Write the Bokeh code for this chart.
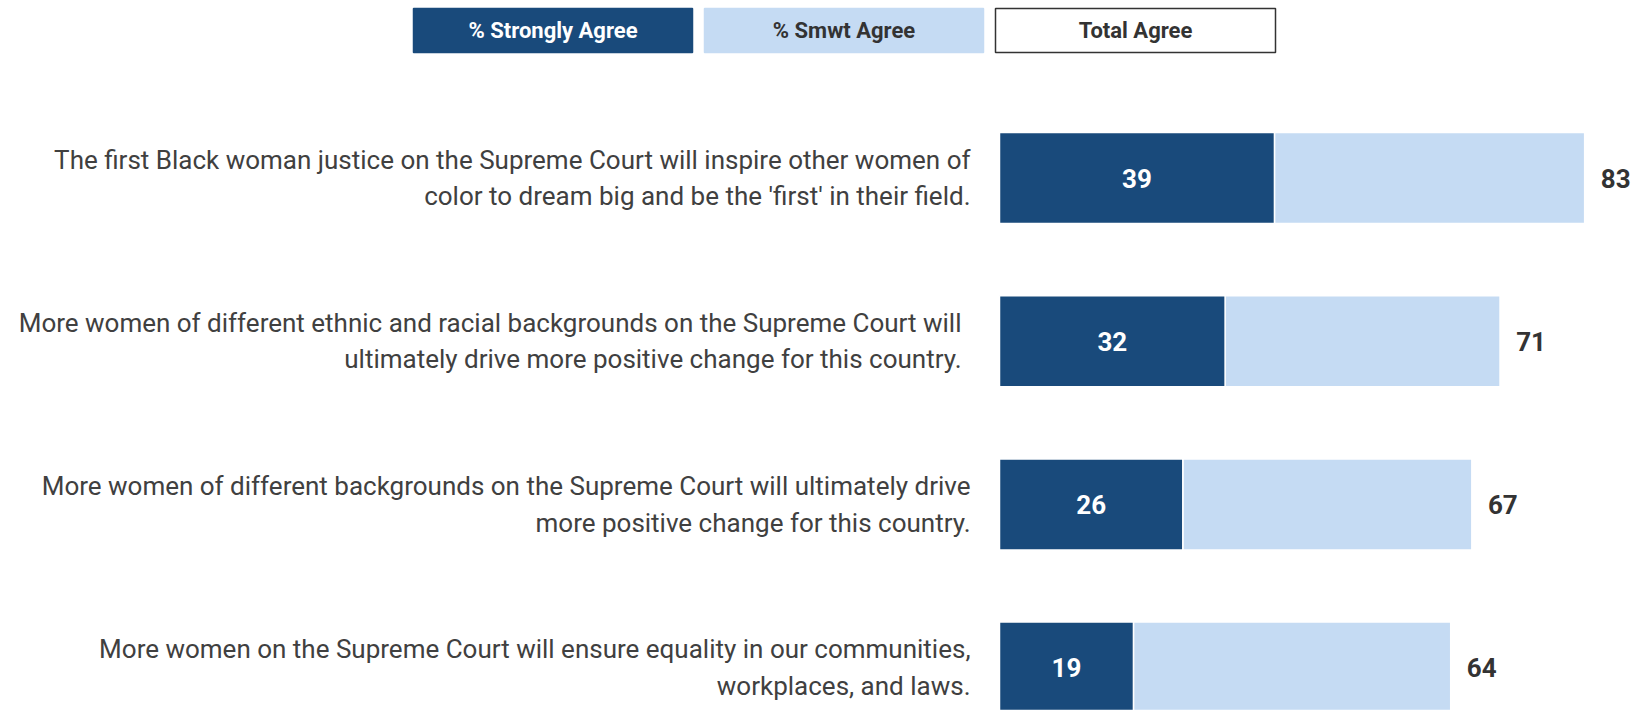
from bokeh.plotting import figure
from bokeh.models import Range1d, ColumnDataSource
from bokeh.core.properties import value
from bokeh.embed import file_html
from bokeh.resources import INLINE

# ---- data ----
statements = [
    "The first Black woman justice on the Supreme Court will inspire other women of\ncolor to dream big and be the 'first' in their field.",
    "More women of different ethnic and racial backgrounds on the Supreme Court will\nultimately drive more positive change for this country.",
    "More women of different backgrounds on the Supreme Court will ultimately drive\nmore positive change for this country.",
    "More women on the Supreme Court will ensure equality in our communities,\nworkplaces, and laws.",
]
strongly_agree = [39, 32, 26, 19]
total_agree = [83, 71, 67, 64]
legend_labels = ["% Strongly Agree", "% Smwt Agree", "Total Agree"]

# ---- styles ----
DARK = "#194A7B"
LIGHT = "#C5DBF3"
TEXT = "#404040"
FONT = "Roboto"

W, H = 1634, 710
PX_PER_UNIT = 7.05
ZERO_X = 999          # pixel of value 0
ROW_PX = 163.2
ROW0_Y = 177.5        # pixel of first row centre
LABEL_RIGHT_PX = [970, 961, 970, 970]


def dx(px):
    return (px - ZERO_X) / PX_PER_UNIT


def dy(py):
    return (py - ROW0_Y) / ROW_PX


p = figure(width=W, height=H, output_backend="svg", toolbar_location=None,
           x_range=Range1d(dx(0), dx(W)), y_range=Range1d(dy(H), dy(0)),
           min_border=0, outline_line_color=None)
p.axis.visible = False
p.grid.visible = False
p.background_fill_color = "white"
p.border_fill_color = "white"

rows = list(range(len(statements)))
src = ColumnDataSource(dict(
    y=rows, strong=strongly_agree, total=total_agree,
    label=statements,
    label_x=[dx(v) for v in LABEL_RIGHT_PX],
    strong_txt=[str(v) for v in strongly_agree],
    total_txt=[str(v) for v in total_agree],
    strong_mid=[v / 2 for v in strongly_agree],
    zero=[0] * len(rows),
))

BAR_H = 91 / ROW_PX
p.hbar(y="y", left="strong", right="total", height=BAR_H, source=src,
       fill_color=LIGHT, line_color="white", line_width=1.5)
p.hbar(y="y", left="zero", right="strong", height=BAR_H, source=src,
       fill_color=DARK, line_color="white", line_width=1.5)

p.text(x="strong_mid", y="y", text="strong_txt", source=src,
       text_align="center", text_baseline="middle", text_color="white",
       text_font=value(FONT), text_font_style="bold", text_font_size="26px")
p.text(x="total", y="y", text="total_txt", source=src, x_offset=31,
       text_align="center", text_baseline="middle", text_color="#333333",
       text_font=value(FONT), text_font_style="bold", text_font_size="26px")

p.text(x="label_x", y="y", text="label", source=src, y_offset=0,
       text_align="right", text_baseline="middle", text_color=TEXT,
       text_font=value(FONT), text_font_size="26px", text_line_height=1.22)

# ---- legend (drawn as boxes) ----
leg_left = [413, 704, 995]
leg_right = [692, 983, 1275]
leg_fill = [DARK, LIGHT, "white"]
leg_line = [DARK, LIGHT, "#333333"]
leg_text_col = ["white", "#333333", "#333333"]
lsrc = ColumnDataSource(dict(
    left=[dx(v) for v in leg_left],
    right=[dx(v) for v in leg_right],
    top=[dy(8)] * 3, bottom=[dy(52)] * 3,
    xm=[dx((a + b) / 2) for a, b in zip(leg_left, leg_right)],
    ym=[dy(30)] * 3,
    fill=leg_fill, line=leg_line, tcol=leg_text_col, label=legend_labels,
))
p.quad(left="left", right="right", top="top", bottom="bottom", source=lsrc,
       fill_color="fill", line_color="line", line_width=1.5)
p.text(x="xm", y="ym", text="label", source=lsrc, text_color="tcol",
       text_align="center", text_baseline="middle",
       text_font=value(FONT), text_font_style="bold", text_font_size="22px")

open("out.html", "w").write(file_html(p, INLINE))
